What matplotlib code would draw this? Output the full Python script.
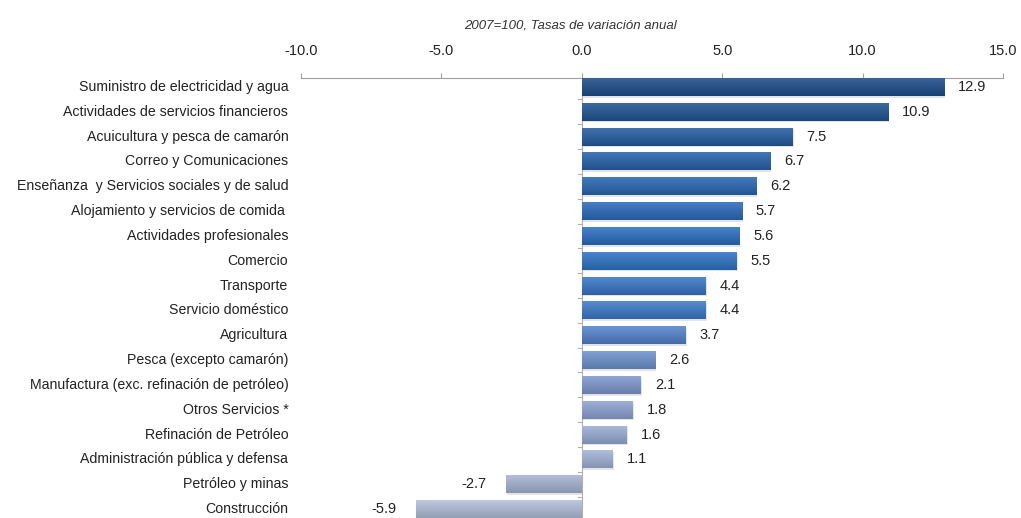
import matplotlib
matplotlib.use("Agg")
import matplotlib.pyplot as plt
import matplotlib.colors as mcolors
import numpy as np

plt.rcParams['font.family'] = ['Liberation Sans', 'DejaVu Sans']

sectores = [
    "Suministro de electricidad y agua",
    "Actividades de servicios financieros",
    "Acuicultura y pesca de camarón",
    "Correo y Comunicaciones",
    "Enseñanza  y Servicios sociales y de salud",
    "Alojamiento y servicios de comida ",
    "Actividades profesionales",
    "Comercio",
    "Transporte",
    "Servicio doméstico",
    "Agricultura",
    "Pesca (excepto camarón)",
    "Manufactura (exc. refinación de petróleo)",
    "Otros Servicios *",
    "Refinación de Petróleo",
    "Administración pública y defensa",
    "Petróleo y minas",
    "Construcción",
]
variacion = [12.9, 10.9, 7.5, 6.7, 6.2, 5.7, 5.6, 5.5, 4.4, 4.4,
             3.7, 2.6, 2.1, 1.8, 1.6, 1.1, -2.7, -5.9]
colores = ["#1f4e8a", "#225595", "#255ea3", "#2863ad", "#2a68b5", "#2c6cbd",
           "#2e70c2", "#3074c6", "#3a78c8", "#3f7bc9", "#5584cc", "#6f94d0",
           "#8099cf", "#8fa4d3", "#9aadd6", "#a3b4d9", "#a8b5d4", "#b4c0dc"]
ticks_x = [-10, -5, 0, 5, 10, 15]

fig = plt.figure(figsize=(10.21, 5.18), dpi=100)
ax = fig.add_axes([301 / 1021, 0.0, 702 / 1021, 440 / 518])

y = np.arange(len(sectores))
alto = 0.72
bars = ax.barh(y, variacion, height=alto, color=colores, zorder=2)

ax.set_xlim(-10, 15)
ax.set_ylim(len(sectores) - 1 + 0.36, -0.36)

# vertical shading on each bar, plus a soft drop shadow
for b, c in zip(bars, colores):
    x0, y0 = b.get_x(), b.get_y()
    w, h = b.get_width(), b.get_height()
    rgb = np.array(mcolors.to_rgb(c))
    top = rgb + (1 - rgb) * 0.12
    bot = rgb * 0.82
    t = np.linspace(0, 1, 32)[:, None]
    grad = top[None, :] * (1 - t) + bot[None, :] * t
    grad = np.repeat(grad[:, None, :], 2, axis=1)
    im = ax.imshow(grad, extent=[x0, x0 + w, y0 + h, y0], aspect='auto',
                   interpolation='bilinear', zorder=3)
    im.set_clip_path(b)
    ax.add_patch(plt.Rectangle((x0 + 0.05, y0 + 0.07), w, h, color="#c4c4c4",
                               alpha=0.45, lw=0, zorder=1))
    b.set_linewidth(0)

# value labels
for yi, v in zip(y, variacion):
    if v >= 0:
        ax.text(v + 0.5, yi, f"{v:.1f}", va='center', ha='left', fontsize=10.5, color="#222222")
    else:
        ax.text(v - 0.7, yi, f"{v:.1f}", va='center', ha='right', fontsize=10.5, color="#222222")

# top value axis
ax.xaxis.tick_top()
ax.set_xticks(ticks_x)
ax.set_xticklabels([f"{t:.1f}" for t in ticks_x], fontsize=10.5, color="#222222")
ax.tick_params(axis='x', direction='out', length=3.5, width=0.8, color="#a0a0a0", pad=11)

# category axis drawn at zero, labels kept on the left
ax.set_yticks([])
for yi, s in zip(y, sectores):
    ax.text(-10.45, yi, s, va='center', ha='right', fontsize=10.2, color="#222222",
            transform=ax.transData)
ax.axvline(0, color="#b0b0b0", lw=0.8, zorder=1)
for yb in np.arange(len(sectores)) - 0.5:
    if yb > -0.4:
        ax.plot([-0.15, 0], [yb, yb], color="#b0b0b0", lw=0.8, zorder=1, clip_on=False)

for side in ['right', 'bottom', 'left']:
    ax.spines[side].set_visible(False)
ax.spines['top'].set_color("#a0a0a0")
ax.spines['top'].set_linewidth(0.8)

fig.text(570 / 1021, 1 - 25 / 518, "2007=100, Tasas de variación anual", ha='center', va='center',
         fontsize=9.5, style='italic', color="#333333")

fig.savefig("out.png", dpi=100)
